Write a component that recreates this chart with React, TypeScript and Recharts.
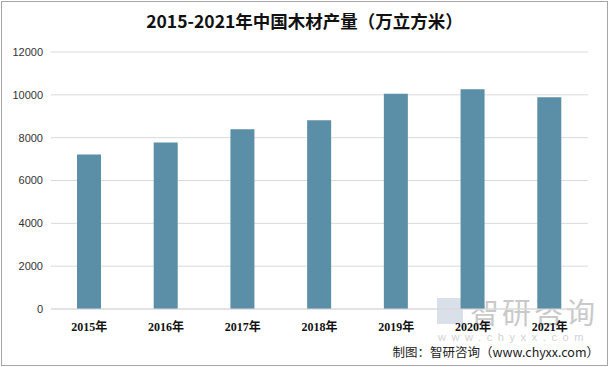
import * as React from "react"
import { BarChart, Bar, XAxis, YAxis, CartesianGrid } from "recharts"

const years = ["2015年", "2016年", "2017年", "2018年", "2019年", "2020年", "2021年"]
const output = [7218, 7776, 8398, 8811, 10046, 10257, 9888]
const yTicks = [0, 2000, 4000, 6000, 8000, 10000, 12000]

const data = years.map((year, i) => ({ year, value: output[i] }))

const W = 609
const H = 367

export default function App() {
  return (
    <div
      style={{
        position: "absolute",
        left: 0,
        top: 0,
        width: W,
        height: H,
        background: "#fff",
        fontFamily: "'Noto Sans CJK SC', 'Liberation Sans', sans-serif",
      }}
    >
      <div
        style={{
          position: "absolute",
          left: 1,
          top: 1,
          width: W - 4,
          height: H - 4,
          border: "1px solid #a6a6a6",
        }}
      />
      <div
        style={{
          position: "absolute",
          left: 0,
          top: 8,
          width: W,
          textAlign: "center",
          fontSize: 17.5,
          fontWeight: "bold",
          color: "#111",
          lineHeight: "26px",
        }}
      >
        2015-2021年中国木材产量（万立方米）
      </div>

      {/* watermark */}
      <div style={{ position: "absolute", left: 437, top: 298, width: 26, height: 26, background: "#cfd8e3", opacity: 0.8 }} />
      <div
        style={{
          position: "absolute",
          left: 470,
          top: 291,
          fontSize: 29,
          color: "#c9c9c9",
          letterSpacing: 3,
          lineHeight: "40px",
        }}
      >
        智研咨询
      </div>
      <div
        style={{
          position: "absolute",
          left: 438,
          top: 330,
          fontSize: 11,
          lineHeight: "14px",
          color: "#d2d2d2",
          letterSpacing: 5.6,
          whiteSpace: "nowrap",
          fontFamily: "'Liberation Sans', sans-serif",
        }}
      >
        www.chyxx.com
      </div>

      <div style={{ position: "absolute", left: 0, top: 0 }}>
        <BarChart
          width={W}
          height={H}
          data={data}
          margin={{ top: 52, right: 21, bottom: 0, left: 0 }}
        >
          <CartesianGrid vertical={false} stroke="#d9d9d9" />
          <XAxis
            dataKey="year"
            height={58}
            tickLine={false}
            axisLine={{ stroke: "#d9d9d9" }}
            tickMargin={7}
            tick={{
              fontSize: 12,
              fontWeight: "bold",
              fill: "#111",
              fontFamily: "'Liberation Serif', 'Noto Sans CJK SC', serif",
            }}
          />
          <YAxis
            width={51}
            domain={[0, 12000]}
            ticks={yTicks}
            interval={0}
            axisLine={false}
            tickLine={false}
            tick={{ fontSize: 11, fill: "#333", fontFamily: "'Liberation Sans', sans-serif" }}
          />
          <Bar dataKey="value" fill="#5b8fa7" barSize={24} isAnimationActive={false} />
        </BarChart>
      </div>

      <div
        style={{
          position: "absolute",
          right: 10,
          top: 343,
          fontSize: 12.5,
          color: "#222",
          lineHeight: "18px",
        }}
      >
        制图：智研咨询（www.chyxx.com）
      </div>
    </div>
  )
}
